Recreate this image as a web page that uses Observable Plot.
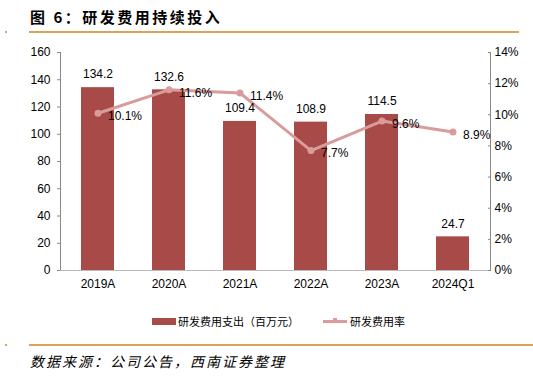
<!DOCTYPE html>
<html><head><meta charset="utf-8">
<script src="https://cdn.jsdelivr.net/npm/d3@7"></script>
<script src="https://cdn.jsdelivr.net/npm/@observablehq/plot@0.6"></script>
<style>
html,body{margin:0;padding:0;background:#fff;}
#wrap{position:relative;width:533px;height:376px;overflow:hidden;font-family:"Noto Sans CJK SC",sans-serif;}
#title{position:absolute;left:30px;top:6px;font-size:15px;font-weight:bold;letter-spacing:2.5px;color:#000;white-space:nowrap;}
.rule{position:absolute;height:2px;background:#d9a35a;}
.dot{position:absolute;width:2px;height:2px;background:#d9a35a;}
#chart{position:absolute;left:0;top:40px;}
#legend{position:absolute;top:313px;left:152px;font-size:11px;color:#000;white-space:nowrap;display:flex;align-items:center;}
#source{position:absolute;left:30px;top:351px;font-size:14px;font-style:italic;letter-spacing:2px;color:#000;white-space:nowrap;}
</style></head>
<body><div id="wrap">
<div id="title">图 6：研发费用持续投入</div>
<div class="dot" style="left:5px;top:31px"></div>
<div class="rule" style="left:29px;top:31px;width:490px"></div>
<div id="chart"></div>
<div id="legend"></div>
<div class="dot" style="left:5px;top:344px"></div>
<div class="rule" style="left:29px;top:344px;width:504px"></div>
<div id="source">数据来源：公司公告，西南证券整理</div>
</div>
<script>
const categories = ["2019A","2020A","2021A","2022A","2023A","2024Q1"];
const spend = [134.2,132.6,109.4,108.9,114.5,24.7];
const rates = [10.1,11.6,11.4,7.7,9.6,8.9];
const leftTicks = [0,20,40,60,80,100,120,140,160];
const rightTicks = [0,2,4,6,8,10,12,14];
const seriesNames = ["研发费用支出（百万元）","研发费用率"];

const barColor = "#a84a47";
const lineColor = "#d99c9b";
const yMax = 160, rMax = 14;
const toY = r => r * yMax / rMax;

const data = categories.map((c,i)=>({cat:c, spend:spend[i], rate:rates[i]}));

const chart = Plot.plot({
  width:533, height:260,
  marginLeft:60, marginRight:43, marginTop:12, marginBottom:30,
  style:{fontFamily:"'Liberation Sans Narrow','Liberation Sans',Arial,sans-serif",fontSize:"12px",color:"#000",background:"#fff"},
  x:{domain:categories, paddingInner:0.54, paddingOuter:0.27, label:null},
  y:{domain:[0,yMax], label:null},
  marks:[
    Plot.barY(data,{x:"cat", y:"spend", fill:barColor}),
    Plot.frame({anchor:"left", stroke:"#888"}),
    Plot.frame({anchor:"right", stroke:"#888"}),
    Plot.frame({anchor:"bottom", stroke:"#bbb"}),
    Plot.axisY({ticks:leftTicks, anchor:"left", tickSize:3, tickPadding:7, stroke:"#888", label:null, tickFormat:d=>d}),
    Plot.axisY({ticks:rightTicks.map(toY), anchor:"right", tickSize:-3, tickPadding:7, stroke:"#888", label:null, tickFormat:d=>Math.round(d*rMax/yMax)+"%"}),
    Plot.axisX({anchor:"bottom", tickSize:0, tickPadding:9, label:null}),
    Plot.line(data,{x:"cat", y:d=>toY(d.rate), stroke:lineColor, strokeWidth:3}),
    Plot.dot(data,{x:"cat", y:d=>toY(d.rate), fill:lineColor, r:3.5}),
    Plot.text(data,{x:"cat", y:"spend", text:d=>d.spend.toFixed(1), dy:-13, fontSize:12}),
    Plot.text(data,{x:"cat", y:d=>toY(d.rate), text:d=>d.rate.toFixed(1)+"%", dx:10, dy:3, textAnchor:"start", fontSize:12})
  ]
});
document.getElementById("chart").appendChild(chart);

const legend = document.getElementById("legend");
legend.innerHTML =
  `<span style="display:inline-block;width:24px;height:7px;background:${barColor};margin-right:2px"></span>`+
  `<span>${seriesNames[0]}</span>`+
  `<span style="display:inline-block;width:24px;height:3px;background:${lineColor};margin-left:24px;margin-right:3px;position:relative"><span style="position:absolute;left:10px;top:-2px;width:4px;height:4px;background:${lineColor}"></span></span>`+
  `<span>${seriesNames[1]}</span>`;
</script>
</body></html>
